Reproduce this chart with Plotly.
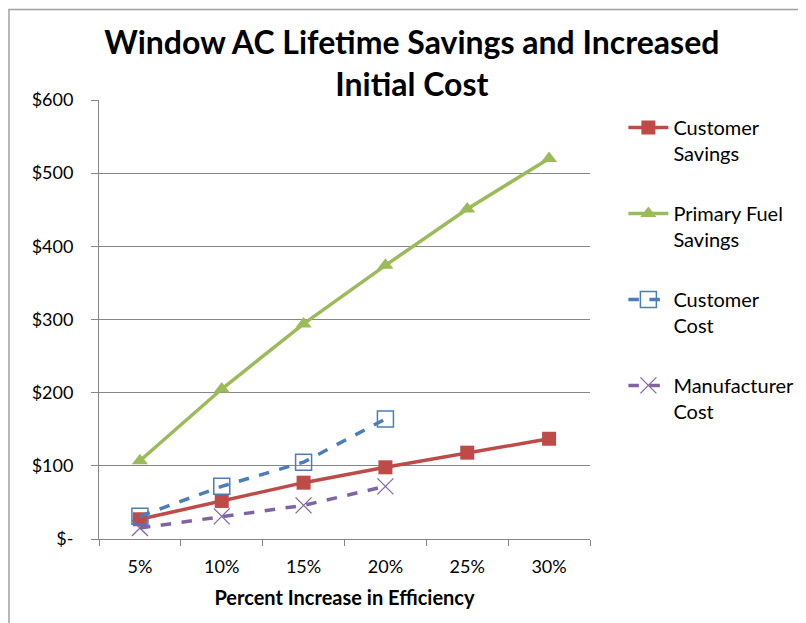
import plotly.graph_objects as go

categories = ["5%", "10%", "15%", "20%", "25%", "30%"]
customer_savings = [27, 52, 77, 98, 118, 137]
primary_fuel_savings = [107, 205, 294, 374, 451, 520]
customer_cost = [31, 72, 105, 164]
manufacturer_cost = [15, 31, 46, 72]
y_tickvals = [0, 100, 200, 300, 400, 500, 600]
y_ticktext = ["$-", "$100", "$200", "$300", "$400", "$500", "$600"]

font_family = "Lato, Open Sans, sans-serif"

fig = go.Figure()
fig.add_trace(go.Scatter(
    x=categories, y=customer_savings, name="Customer<br>Savings", mode="lines+markers",
    line=dict(color="#BE4B48", width=3.5),
    marker=dict(symbol="square", size=14, color="#BE4B48"),
    legendgroup="a"))
fig.add_trace(go.Scatter(
    x=categories, y=primary_fuel_savings, name="Primary Fuel<br>Savings", mode="lines+markers",
    line=dict(color="#9BBB59", width=3.5),
    marker=dict(symbol="triangle-up", size=14, color="#9BBB59"),
    legendgroup="b"))
fig.add_trace(go.Scatter(
    x=categories[:len(customer_cost)], y=customer_cost, name="Customer<br>Cost", mode="lines+markers",
    line=dict(color="#4A7EBB", width=3.5, dash="dash"),
    marker=dict(symbol="square-open", size=16, color="#4A7EBB", line=dict(width=1.5)),
    legendgroup="c"))
fig.add_trace(go.Scatter(
    x=categories[:len(manufacturer_cost)], y=manufacturer_cost, name="Manufacturer<br>Cost", mode="lines+markers",
    line=dict(color="#8064A2", width=3.5, dash="dash"),
    marker=dict(symbol="x-thin", size=16, color="#8064A2", line=dict(width=1.2, color="#8064A2")),
    legendgroup="d"))

fig.update_layout(
    width=806, height=623,
    paper_bgcolor="white", plot_bgcolor="white",
    margin=dict(l=91, r=224, t=92, b=92),
    font=dict(family=font_family, size=18, color="#000000"),
    title=dict(
        text="<b>Window AC Lifetime Savings and Increased<br>Initial Cost</b>",
        x=0.501, xanchor="center", y=0.926, yanchor="middle",
        font=dict(size=32, family=font_family, color="#000000")),
    showlegend=True,
    legend=dict(
        x=1.068, xanchor="left", y=0.982, yanchor="top",
        font=dict(size=20, family=font_family),
        tracegroupgap=31, traceorder="grouped", valign="top",
        itemwidth=40, bgcolor="rgba(0,0,0,0)"),
    xaxis=dict(
        type="category", range=[-0.5, 5.5], tickson="boundaries",
        ticks="outside", ticklen=6, tickcolor="#868686",
        showline=True, linecolor="#868686", linewidth=1,
        showgrid=False, tickfont=dict(size=18), ticklabelstandoff=11,
        title=dict(text="<b>Percent Increase in Efficiency</b>", font=dict(size=20), standoff=15)),
    yaxis=dict(
        range=[0, 600], tickvals=y_tickvals, ticktext=y_ticktext,
        ticks="outside", ticklen=7, tickcolor="#868686",
        showline=True, linecolor="#868686", linewidth=1,
        showgrid=True, gridcolor="#868686", gridwidth=1,
        zeroline=False, tickfont=dict(size=18), ticklabelstandoff=14),
    shapes=[dict(type="rect", xref="paper", yref="paper",
                 x0=-0.1833, x1=1.5, y0=-0.3, y1=1.206,
                 line=dict(color="#A0A0A0", width=1.5), fillcolor="rgba(0,0,0,0)", layer="below")],
)

fig.write_html("out.html")
